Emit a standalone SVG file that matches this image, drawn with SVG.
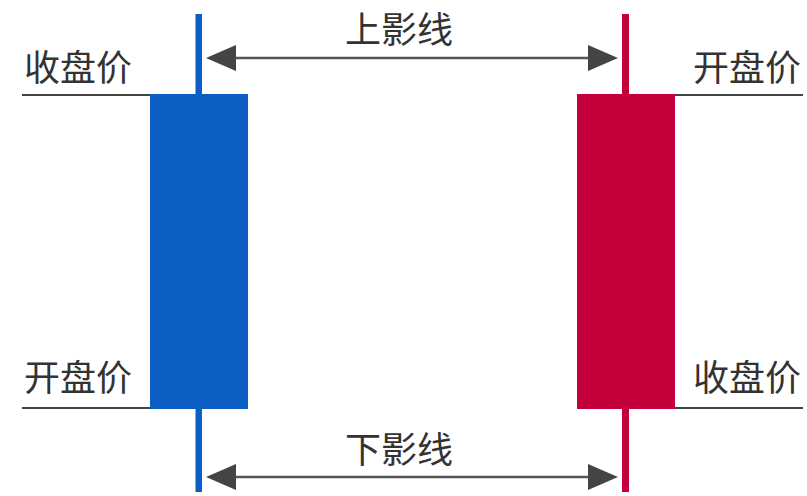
<svg xmlns="http://www.w3.org/2000/svg" width="807" height="496" viewBox="0 0 807 496">
<defs>
<style>
.lbl{font-family:"Noto Sans CJK SC","Noto Sans",sans-serif;font-size:36px;fill:#333}
.ref{stroke:#444;stroke-width:2}
.dim{stroke:#555;stroke-width:2.5}
.ah{fill:#444}
</style>
</defs>
<rect width="807" height="496" fill="#fff"/>
<g id="connectors">
<line class="ref" x1="22" y1="95" x2="150" y2="95"/>
<line class="ref" x1="22" y1="408" x2="150" y2="408"/>
<line class="ref" x1="675" y1="95" x2="803" y2="95"/>
<line class="ref" x1="675" y1="408" x2="803" y2="408"/>
<line class="dim" x1="230" y1="58" x2="595" y2="58"/>
<polygon class="ah" points="206,58 236,45 236,71"/>
<polygon class="ah" points="618,58 588,45 588,71"/>
<line class="dim" x1="230" y1="477" x2="595" y2="477"/>
<polygon class="ah" points="206,477 236,464 236,490"/>
<polygon class="ah" points="618,477 588,464 588,490"/>
</g>
<g id="blue-candle">
<rect x="195.5" y="14" width="6.5" height="478" fill="#0C5EC2"/>
<rect x="150" y="94" width="98" height="315" fill="#0C5EC2"/>
</g>
<g id="red-candle">
<rect x="622" y="14" width="7" height="478" fill="#C4003C"/>
<rect x="577" y="94" width="98" height="315" fill="#C4003C"/>
</g>
<g id="label-upper-shadow"><text class="lbl" x="399" y="43" text-anchor="middle">上影线</text></g>
<g id="label-lower-shadow"><text class="lbl" x="399" y="463" text-anchor="middle">下影线</text></g>
<g id="label-left-close"><text class="lbl" x="24" y="81">收盘价</text></g>
<g id="label-left-open"><text class="lbl" x="24" y="391">开盘价</text></g>
<g id="label-right-open"><text class="lbl" x="801" y="81" text-anchor="end">开盘价</text></g>
<g id="label-right-close"><text class="lbl" x="801" y="391" text-anchor="end">收盘价</text></g>
</svg>
